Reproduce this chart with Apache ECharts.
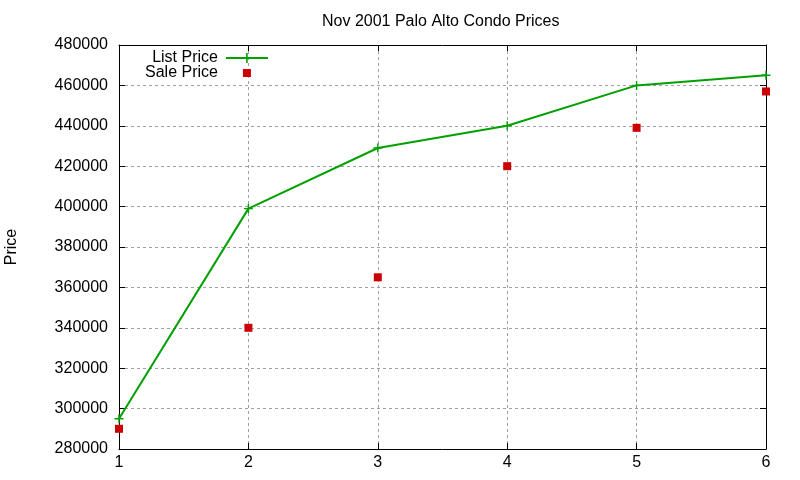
<!DOCTYPE html>
<html lang="en">
<head>
    <meta charset="UTF-8">
    <title>Nov 2001 Palo Alto Condo Prices</title>
    <style>
        html, body {
            margin: 0;
            padding: 0;
            background: #ffffff;
        }

        #chart-canvas {
            width: 800px;
            height: 480px;
        }
    </style>
</head>
<body>
<div id="chart-canvas"></div>
<script src="https://cdn.jsdelivr.net/npm/echarts@6/dist/echarts.min.js"></script>
<script type="text/javascript">
    // data
    const months = [1, 2, 3, 4, 5, 6];
    const listPrice = [295000, 399000, 429000, 440000, 460000, 465000];
    const salePrice = [290000, 340000, 365000, 420000, 439000, 457000];
    const yTicks = [280000, 300000, 320000, 340000, 360000, 380000, 400000, 420000, 440000, 460000, 480000];

    const green = '#00a000';
    const red = '#cc0000';
    const font = '"Liberation Sans", Arial, sans-serif';
    const plusSymbol = 'path://M4.2,0h1.6v4.2h4.2v1.6h-4.2v4.2h-1.6v-4.2h-4.2v-1.6h4.2z';
    // legend icons: 42x12 boxes, gnuplot style (line with a cross / lone square)
    const legendLine = 'path://M0,5h42v2h-42z M20.2,1h1.6v10h-1.6z';
    const legendSquare = 'path://M0,0h0.01v0.01h-0.01z M17,2h8v8h-8z M42,12h0.01v-0.01h-0.01z';

    const gridLine = {
        show: true,
        lineStyle: {color: '#a0a0a0', width: 1, type: [3, 3]}
    };
    const frame = {show: true, onZero: false, lineStyle: {color: '#000', width: 1}};
    const ticksIn = {show: true, inside: true, length: 6, lineStyle: {color: '#000'}};

    let myChart = echarts.init(document.getElementById('chart-canvas'));

    myChart.setOption({
        animation: false,
        backgroundColor: '#ffffff',
        textStyle: {fontFamily: font},
        title: {
            text: 'Nov 2001 Palo Alto Condo Prices',
            left: 317,
            top: 9,
            textStyle: {fontSize: 16, fontWeight: 'normal', color: '#000', fontFamily: font}
        },
        legend: {
            orient: 'vertical',
            left: 140,
            top: 45,
            align: 'right',
            itemWidth: 42,
            itemHeight: 12,
            itemGap: -1,
            textStyle: {fontSize: 16, color: '#000', fontFamily: font, padding: [0, 3, 0, 0]},
            data: [
                {name: 'List Price', icon: legendLine},
                {name: 'Sale Price', icon: legendSquare}
            ]
        },
        grid: {left: 119, right: 34, top: 45, bottom: 31, outerBoundsMode: 'none'},
        xAxis: [
            {
                type: 'value',
                min: months[0],
                max: months[months.length - 1],
                interval: 1,
                axisLine: frame,
                axisTick: ticksIn,
                splitLine: gridLine,
                axisLabel: {fontSize: 16, color: '#000', margin: 6, fontFamily: font}
            },
            {
                type: 'value',
                position: 'top',
                min: months[0],
                max: months[months.length - 1],
                interval: 1,
                axisLine: frame,
                axisTick: ticksIn,
                splitLine: {show: false},
                axisLabel: {show: false}
            }
        ],
        yAxis: [
            {
                type: 'value',
                min: yTicks[0],
                max: yTicks[yTicks.length - 1],
                interval: 20000,
                name: 'Price',
                nameLocation: 'middle',
                nameGap: 99,
                nameTextStyle: {fontSize: 16, color: '#000', fontFamily: font},
                axisLine: frame,
                axisTick: ticksIn,
                splitLine: gridLine,
                axisLabel: {
                    fontSize: 16, color: '#000', margin: 11, fontFamily: font,
                    formatter: v => String(v)
                }
            },
            {
                type: 'value',
                position: 'right',
                min: yTicks[0],
                max: yTicks[yTicks.length - 1],
                interval: 20000,
                axisLine: frame,
                axisTick: ticksIn,
                splitLine: {show: false},
                axisLabel: {show: false}
            }
        ],
        series: [
            {
                name: 'List Price',
                type: 'line',
                data: months.map((m, i) => [m, listPrice[i]]),
                color: green,
                symbol: plusSymbol,
                symbolSize: 9,
                showAllSymbol: true,
                lineStyle: {color: green, width: 2},
                itemStyle: {color: green, opacity: 1},
                z: 3
            },
            {
                name: 'Sale Price',
                type: 'scatter',
                data: months.map((m, i) => [m, salePrice[i]]),
                color: red,
                symbol: 'rect',
                symbolSize: 8,
                itemStyle: {color: red, opacity: 1},
                z: 2
            }
        ]
    });
</script>
</body>
</html>
